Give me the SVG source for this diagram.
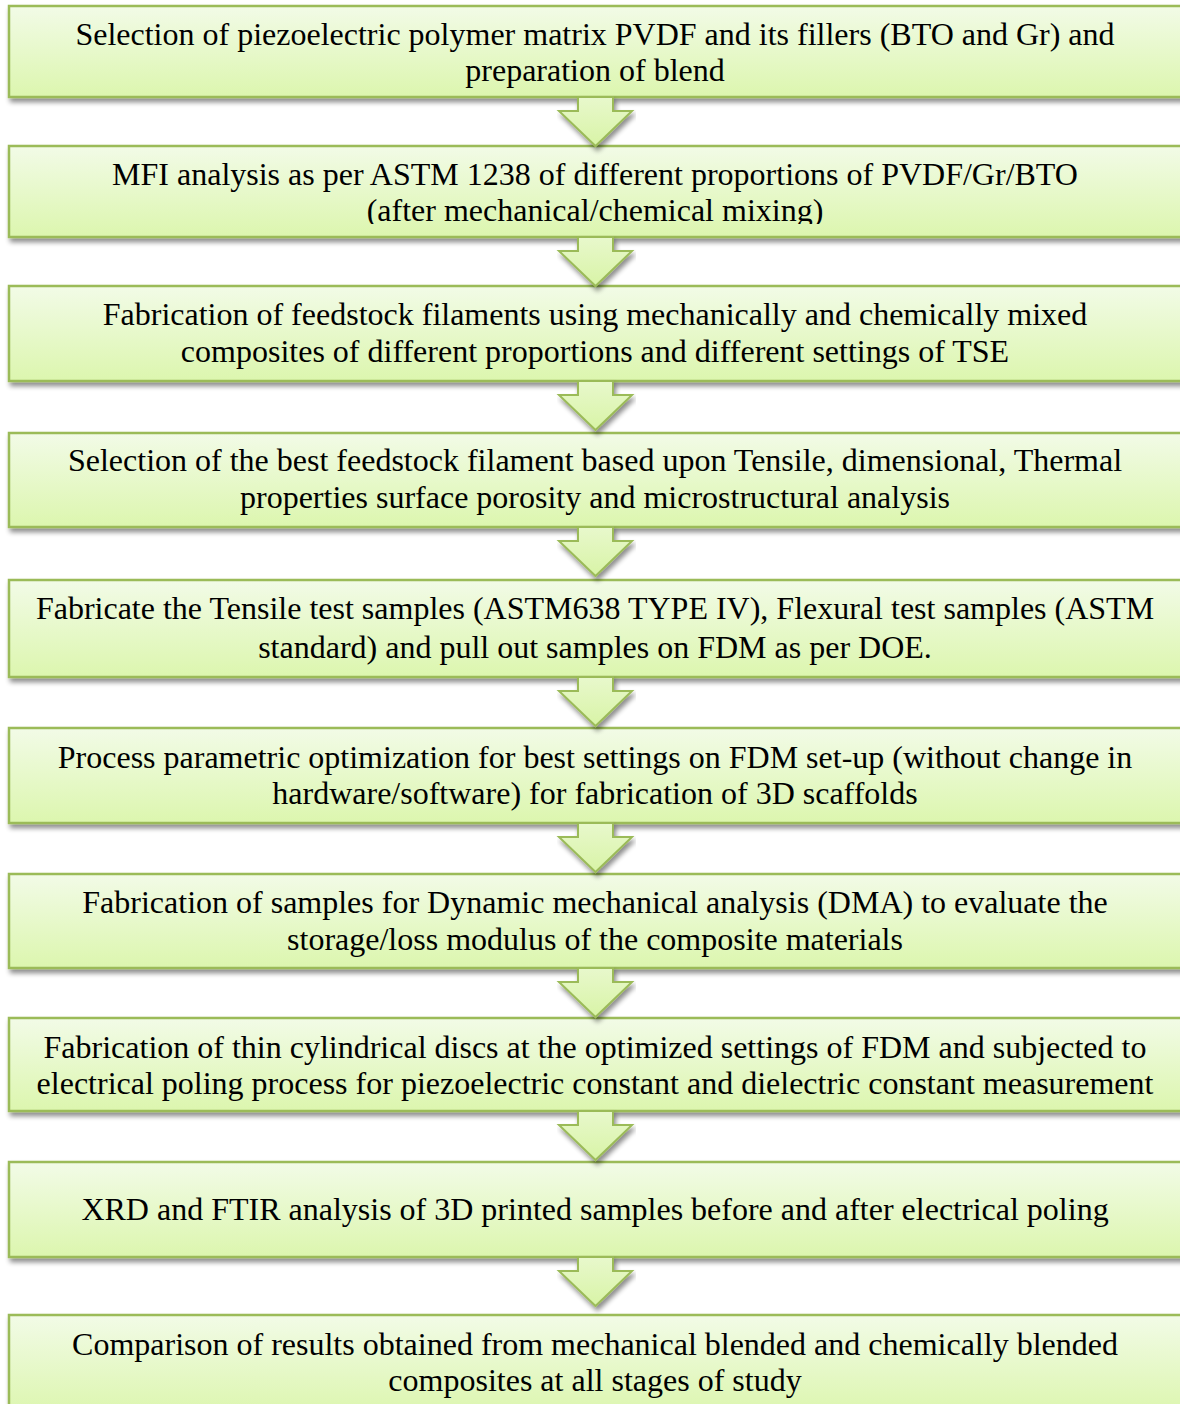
<svg xmlns="http://www.w3.org/2000/svg" width="1180" height="1404" viewBox="0 0 1180 1404">
  <defs>
    <linearGradient id="boxFill" x1="0" y1="0" x2="0" y2="1">
      <stop offset="0" stop-color="#f2fbe7"/>
      <stop offset="1" stop-color="#dcf6ae"/>
    </linearGradient>
    <linearGradient id="arrowFill" x1="0" y1="0" x2="0" y2="1">
      <stop offset="0" stop-color="#e8f8cc"/>
      <stop offset="1" stop-color="#d8f4a6"/>
    </linearGradient>
    <filter id="shadow" x="-5%" y="-20%" width="110%" height="150%">
      <feGaussianBlur in="SourceAlpha" stdDeviation="2.5"/>
      <feOffset dx="2" dy="4" result="b"/>
      <feComponentTransfer><feFuncA type="linear" slope="0.45"/></feComponentTransfer>
      <feMerge><feMergeNode/><feMergeNode in="SourceGraphic"/></feMerge>
    </filter>
    <clipPath id="clip2"><rect x="9" y="146" width="1180" height="78"/></clipPath>
    <!-- block arrow: stem from box bottom (y=-14), head from y=0 to tip at y=35 -->
    <path id="arrowShape" d="M-17.5,-14 L17.5,-14 L17.5,0 L36.5,0 L0,35 L-36.5,0 L-17.5,0 Z"/>
  </defs>
  <style>
    .box { fill: url(#boxFill); stroke: #9bbb59; stroke-width: 2.5; filter: url(#shadow); }
    .arrow { fill: url(#arrowFill); stroke: #9bbb59; stroke-width: 2; filter: url(#shadow); }
    .label { font-family: "Liberation Serif", "Times New Roman", serif; font-size: 32px; fill: #000; text-anchor: middle; }
  </style>
  <rect width="1180" height="1404" fill="#ffffff"/>

  <g id="node1">
    <rect class="box" x="9" y="6" width="1180" height="91"/>
    <text class="label" x="595" y="45">Selection of piezoelectric polymer matrix PVDF and its fillers (BTO and Gr) and</text>
    <text class="label" x="595" y="81">preparation of blend</text>
  </g>
  <g id="node2">
    <rect class="box" x="9" y="146" width="1180" height="91"/>
    <g clip-path="url(#clip2)">
      <text class="label" x="595" y="185">MFI analysis as per ASTM 1238 of different proportions of PVDF/Gr/BTO</text>
      <text class="label" x="595" y="221">(after mechanical/chemical mixing)</text>
    </g>
  </g>
  <g id="node3">
    <rect class="box" x="9" y="286" width="1180" height="95"/>
    <text class="label" x="595" y="325">Fabrication of feedstock filaments using mechanically and chemically mixed</text>
    <text class="label" x="595" y="362">composites of different proportions and different settings of TSE</text>
  </g>
  <g id="node4">
    <rect class="box" x="9" y="433" width="1180" height="94"/>
    <text class="label" x="595" y="471">Selection of the best feedstock filament based upon Tensile, dimensional, Thermal</text>
    <text class="label" x="595" y="508">properties surface porosity and microstructural analysis</text>
  </g>
  <g id="node5">
    <rect class="box" x="9" y="580" width="1180" height="97"/>
    <text class="label" x="595" y="619">Fabricate the Tensile test samples (ASTM638 TYPE IV), Flexural test samples (ASTM</text>
    <text class="label" x="595" y="658">standard) and pull out samples on FDM as per DOE.</text>
  </g>
  <g id="node6">
    <rect class="box" x="9" y="728" width="1180" height="95"/>
    <text class="label" x="595" y="768">Process parametric optimization for best settings on FDM set-up (without change in</text>
    <text class="label" x="595" y="804">hardware/software) for fabrication of 3D scaffolds</text>
  </g>
  <g id="node7">
    <rect class="box" x="9" y="874" width="1180" height="94"/>
    <text class="label" x="595" y="913">Fabrication of samples for Dynamic mechanical analysis (DMA) to evaluate the</text>
    <text class="label" x="595" y="950">storage/loss modulus of the composite materials</text>
  </g>
  <g id="node8">
    <rect class="box" x="9" y="1018" width="1180" height="93"/>
    <text class="label" x="595" y="1058">Fabrication of thin cylindrical discs at the optimized settings of FDM and subjected to</text>
    <text class="label" x="595" y="1094">electrical poling process for piezoelectric constant and dielectric constant measurement</text>
  </g>
  <g id="node9">
    <rect class="box" x="9" y="1162" width="1180" height="95"/>
    <text class="label" x="595" y="1220">XRD and FTIR analysis of 3D printed samples before and after electrical poling</text>
  </g>
  <g id="node10">
    <rect class="box" x="9" y="1315" width="1180" height="100"/>
    <text class="label" x="595" y="1355">Comparison of results obtained from mechanical blended and chemically blended</text>
    <text class="label" x="595" y="1391">composites at all stages of study</text>
  </g>

  <!-- block arrows between consecutive steps -->
  <g id="connectors">
    <use href="#arrowShape" class="arrow" transform="translate(595.5,111)"/>
    <use href="#arrowShape" class="arrow" transform="translate(595.5,251)"/>
    <use href="#arrowShape" class="arrow" transform="translate(595.5,395)"/>
    <use href="#arrowShape" class="arrow" transform="translate(595.5,541)"/>
    <use href="#arrowShape" class="arrow" transform="translate(595.5,691)"/>
    <use href="#arrowShape" class="arrow" transform="translate(595.5,837)"/>
    <use href="#arrowShape" class="arrow" transform="translate(595.5,982)"/>
    <use href="#arrowShape" class="arrow" transform="translate(595.5,1125)"/>
    <use href="#arrowShape" class="arrow" transform="translate(595.5,1271)"/>
  </g>
</svg>
